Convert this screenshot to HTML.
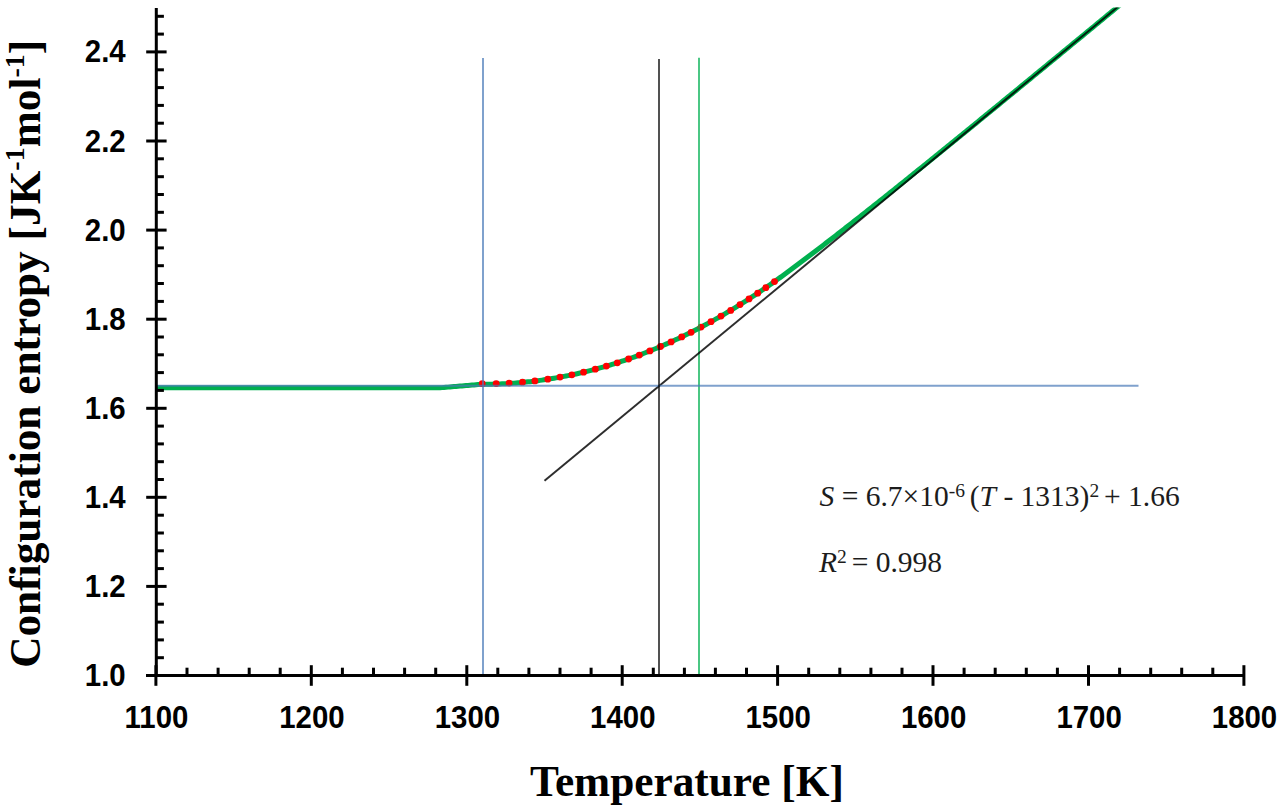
<!DOCTYPE html>
<html><head><meta charset="utf-8"><style>
html,body{margin:0;padding:0;background:#fff;}
body{width:1284px;height:811px;overflow:hidden;}
svg{display:block;}
.tk{font-family:"Liberation Sans",sans-serif;font-weight:bold;font-size:29.4px;fill:#000;letter-spacing:0px;}
.ttl{font-family:"Liberation Serif",serif;font-weight:bold;font-size:43.3px;fill:#000;}
.eq{font-family:"Liberation Serif",serif;font-size:29.5px;fill:#1c1c1c;}
.sup{font-size:19.5px;}
</style></head><body>
<svg width="1284" height="811" viewBox="0 0 1284 811">
<rect width="1284" height="811" fill="#fff"/>
<defs><clipPath id="pa"><rect x="150" y="7.5" width="1100" height="670"/></clipPath></defs>
<g clip-path="url(#pa)">
<path d="M156.0,387.80 L158.0,387.80 L160.0,387.80 L162.0,387.80 L164.0,387.80 L166.0,387.80 L168.0,387.80 L170.0,387.80 L172.0,387.80 L174.0,387.80 L176.0,387.80 L178.0,387.80 L180.0,387.80 L182.0,387.80 L184.0,387.80 L186.0,387.80 L188.0,387.80 L190.0,387.80 L192.0,387.80 L194.0,387.80 L196.0,387.80 L198.0,387.80 L200.0,387.80 L202.0,387.80 L204.0,387.80 L206.0,387.80 L208.0,387.80 L210.0,387.80 L212.0,387.80 L214.0,387.80 L216.0,387.80 L218.0,387.80 L220.0,387.80 L222.0,387.80 L224.0,387.80 L226.0,387.80 L228.0,387.80 L230.0,387.80 L232.0,387.80 L234.0,387.80 L236.0,387.80 L238.0,387.80 L240.0,387.80 L242.0,387.80 L244.0,387.80 L246.0,387.80 L248.0,387.80 L250.0,387.80 L252.0,387.80 L254.0,387.80 L256.0,387.80 L258.0,387.80 L260.0,387.80 L262.0,387.80 L264.0,387.80 L266.0,387.80 L268.0,387.80 L270.0,387.80 L272.0,387.80 L274.0,387.80 L276.0,387.80 L278.0,387.80 L280.0,387.80 L282.0,387.80 L284.0,387.80 L286.0,387.80 L288.0,387.80 L290.0,387.80 L292.0,387.80 L294.0,387.80 L296.0,387.80 L298.0,387.80 L300.0,387.80 L302.0,387.80 L304.0,387.80 L306.0,387.80 L308.0,387.80 L310.0,387.80 L312.0,387.80 L314.0,387.80 L316.0,387.80 L318.0,387.80 L320.0,387.80 L322.0,387.80 L324.0,387.80 L326.0,387.80 L328.0,387.80 L330.0,387.80 L332.0,387.80 L334.0,387.80 L336.0,387.80 L338.0,387.80 L340.0,387.80 L342.0,387.80 L344.0,387.80 L346.0,387.80 L348.0,387.80 L350.0,387.80 L352.0,387.80 L354.0,387.80 L356.0,387.80 L358.0,387.80 L360.0,387.80 L362.0,387.80 L364.0,387.80 L366.0,387.80 L368.0,387.80 L370.0,387.80 L372.0,387.80 L374.0,387.80 L376.0,387.80 L378.0,387.80 L380.0,387.80 L382.0,387.80 L384.0,387.80 L386.0,387.80 L388.0,387.80 L390.0,387.80 L392.0,387.80 L394.0,387.80 L396.0,387.80 L398.0,387.80 L400.0,387.80 L402.0,387.80 L404.0,387.80 L406.0,387.80 L408.0,387.80 L410.0,387.80 L412.0,387.80 L414.0,387.80 L416.0,387.80 L418.0,387.80 L420.0,387.80 L422.0,387.80 L424.0,387.80 L426.0,387.80 L428.0,387.80 L430.0,387.80 L432.0,387.80 L434.0,387.80 L436.0,387.80 L438.0,387.80 L440.0,387.80 L442.0,387.63 L444.0,387.46 L446.0,387.29 L448.0,387.12 L450.0,386.94 L452.0,386.77 L454.0,386.60 L456.0,386.43 L458.0,386.26 L460.0,386.09 L462.0,385.92 L464.0,385.75 L466.0,385.57 L468.0,385.40 L470.0,385.23 L472.0,385.06 L474.0,384.89 L476.0,384.72 L478.0,384.55 L480.0,384.38 L482.0,384.21 L484.0,384.21 L486.0,384.21 L488.0,384.20 L490.0,384.17 L492.0,384.14 L494.0,384.10 L496.0,384.05 L498.0,383.98 L500.0,383.91 L502.0,383.83 L504.0,383.74 L506.0,383.63 L508.0,383.52 L510.0,383.40 L512.0,383.27 L514.0,383.13 L516.0,382.98 L518.0,382.82 L520.0,382.64 L522.0,382.46 L524.0,382.27 L526.0,382.07 L528.0,381.86 L530.0,381.64 L532.0,381.41 L534.0,381.17 L536.0,380.92 L538.0,380.66 L540.0,380.39 L542.0,380.11 L544.0,379.82 L546.0,379.52 L548.0,379.21 L550.0,378.89 L552.0,378.56 L554.0,378.22 L556.0,377.87 L558.0,377.52 L560.0,377.15 L562.0,376.78 L564.0,376.41 L566.0,376.02 L568.0,375.62 L570.0,375.22 L572.0,374.80 L574.0,374.38 L576.0,373.94 L578.0,373.50 L580.0,373.04 L582.0,372.58 L584.0,372.11 L586.0,371.62 L588.0,371.13 L590.0,370.62 L592.0,370.11 L594.0,369.58 L596.0,369.05 L598.0,368.51 L600.0,367.95 L602.0,367.39 L604.0,366.82 L606.0,366.23 L608.0,365.64 L610.0,365.04 L612.0,364.42 L614.0,363.80 L616.0,363.17 L618.0,362.53 L620.0,361.87 L622.0,361.21 L624.0,360.54 L626.0,359.86 L628.0,359.17 L630.0,358.46 L632.0,357.75 L634.0,357.03 L636.0,356.30 L638.0,355.56 L640.0,354.81 L642.0,354.05 L644.0,353.28 L646.0,352.49 L648.0,351.70 L650.0,350.90 L652.0,350.09 L654.0,349.27 L656.0,348.44 L658.0,347.60 L660.0,346.75 L662.0,345.89 L664.0,345.02 L666.0,344.14 L668.0,343.25 L670.0,342.35 L672.0,341.44 L674.0,340.52 L676.0,339.60 L678.0,338.66 L680.0,337.71 L682.0,336.75 L684.0,335.78 L686.0,334.80 L688.0,333.81 L690.0,332.82 L692.0,331.81 L694.0,330.79 L696.0,329.76 L698.0,328.72 L700.0,327.68 L702.0,326.62 L704.0,325.55 L706.0,324.47 L708.0,323.39 L710.0,322.29 L712.0,321.18 L714.0,320.07 L716.0,318.94 L718.0,317.80 L720.0,316.66 L722.0,315.50 L724.0,314.33 L726.0,313.16 L728.0,311.97 L730.0,310.78 L732.0,309.57 L734.0,308.35 L736.0,307.13 L738.0,305.89 L740.0,304.65 L742.0,303.39 L744.0,302.13 L746.0,300.85 L748.0,299.57 L750.0,298.27 L752.0,296.97 L754.0,295.65 L756.0,294.33 L758.0,293.00 L760.0,291.65 L762.0,290.30 L764.0,288.93 L766.0,287.56 L768.0,286.18 L770.0,284.78 L772.0,283.38 L774.0,281.97 L776.0,280.52 L778.0,279.07 L780.0,277.62 L782.0,276.16 L784.0,274.69 L786.0,273.23 L788.0,271.75 L790.0,270.28 L792.0,268.80 L794.0,267.31 L796.0,265.83 L798.0,264.33 L800.0,262.84 L802.0,261.34 L804.0,259.84 L806.0,258.33 L808.0,256.82 L810.0,255.31 L812.0,253.79 L814.0,252.27 L816.0,250.75 L818.0,249.22 L820.0,247.70 L822.0,246.17 L824.0,244.63 L826.0,243.09 L828.0,241.56 L830.0,240.01 L832.0,238.47 L834.0,236.92 L836.0,235.37 L838.0,233.82 L840.0,232.27 L842.0,230.71 L844.0,229.15 L846.0,227.59 L848.0,226.03 L850.0,224.46 L852.0,222.90 L854.0,221.33 L856.0,219.76 L858.0,218.18 L860.0,216.61 L862.0,215.03 L864.0,213.45 L866.0,211.87 L868.0,210.29 L870.0,208.71 L872.0,207.12 L874.0,205.54 L876.0,203.95 L878.0,202.36 L880.0,200.77 L882.0,199.18 L884.0,197.58 L886.0,195.99 L888.0,194.39 L890.0,192.79 L892.0,191.20 L894.0,189.60 L896.0,187.99 L898.0,186.39 L900.0,184.79 L902.0,183.18 L904.0,181.58 L906.0,179.97 L908.0,178.36 L910.0,176.75 L912.0,175.14 L914.0,173.53 L916.0,171.92 L918.0,170.31 L920.0,168.69 L922.0,167.08 L924.0,165.46 L926.0,163.84 L928.0,162.23 L930.0,160.61 L932.0,158.99 L934.0,157.37 L936.0,155.75 L938.0,154.13 L940.0,152.51 L942.0,150.88 L944.0,149.26 L946.0,147.64 L948.0,146.01 L950.0,144.38 L952.0,142.76 L954.0,141.13 L956.0,139.50 L958.0,137.88 L960.0,136.25 L962.0,134.62 L964.0,132.99 L966.0,131.36 L968.0,129.73 L970.0,128.10 L972.0,126.47 L974.0,124.83 L976.0,123.20 L978.0,121.57 L980.0,119.93 L982.0,118.30 L984.0,116.67 L986.0,115.03 L988.0,113.40 L990.0,111.76 L992.0,110.12 L994.0,108.49 L996.0,106.85 L998.0,105.21 L1000.0,103.58 L1002.0,101.94 L1004.0,100.30 L1006.0,98.66 L1008.0,97.02 L1010.0,95.38 L1012.0,93.74 L1014.0,92.10 L1016.0,90.46 L1018.0,88.82 L1020.0,87.18 L1022.0,85.54 L1024.0,83.90 L1026.0,82.26 L1028.0,80.62 L1030.0,78.97 L1032.0,77.33 L1034.0,75.69 L1036.0,74.05 L1038.0,72.40 L1040.0,70.76 L1042.0,69.12 L1044.0,67.47 L1046.0,65.83 L1048.0,64.18 L1050.0,62.54 L1052.0,60.89 L1054.0,59.25 L1056.0,57.60 L1058.0,55.96 L1060.0,54.31 L1062.0,52.67 L1064.0,51.02 L1066.0,49.38 L1068.0,47.73 L1070.0,46.08 L1072.0,44.44 L1074.0,42.79 L1076.0,41.15 L1078.0,39.50 L1080.0,37.85 L1082.0,36.20 L1084.0,34.56 L1086.0,32.91 L1088.0,31.26 L1090.0,29.61 L1092.0,27.97 L1094.0,26.32 L1096.0,24.67 L1098.0,23.02 L1100.0,21.37 L1102.0,19.73 L1104.0,18.08 L1106.0,16.43 L1108.0,14.78 L1110.0,13.13 L1112.0,11.48 L1114.0,9.83 L1116.0,8.19 L1118.0,6.54 L1120.0,4.89 L1122.0,3.24" fill="none" stroke="#00b04f" stroke-width="5" stroke-linejoin="round"/>
<g fill="#ff0000"><circle cx="482.2" cy="383.7" r="3.4"/><circle cx="496.2" cy="383.6" r="3.4"/><circle cx="509.1" cy="383.1" r="3.4"/><circle cx="522.5" cy="382.2" r="3.4"/><circle cx="534.9" cy="380.9" r="3.4"/><circle cx="547.8" cy="379.2" r="3.4"/><circle cx="560.0" cy="377.1" r="3.4"/><circle cx="571.9" cy="374.8" r="3.4"/><circle cx="583.6" cy="372.2" r="3.4"/><circle cx="595.3" cy="369.2" r="3.4"/><circle cx="606.4" cy="366.1" r="3.4"/><circle cx="617.3" cy="362.8" r="3.4"/><circle cx="628.6" cy="359.0" r="3.4"/><circle cx="639.3" cy="355.1" r="3.4"/><circle cx="649.9" cy="350.9" r="3.4"/><circle cx="660.5" cy="346.5" r="3.4"/><circle cx="671.1" cy="341.9" r="3.4"/><circle cx="681.7" cy="336.9" r="3.4"/><circle cx="691.1" cy="332.3" r="3.4"/><circle cx="701.0" cy="327.1" r="3.4"/><circle cx="711.0" cy="321.7" r="3.4"/><circle cx="721.0" cy="316.1" r="3.4"/><circle cx="730.7" cy="310.4" r="3.4"/><circle cx="740.0" cy="304.6" r="3.4"/><circle cx="749.0" cy="298.9" r="3.4"/><circle cx="757.7" cy="293.2" r="3.4"/><circle cx="765.8" cy="287.7" r="3.4"/><circle cx="774.5" cy="281.6" r="3.4"/></g>
<line x1="699" y1="57.8" x2="699" y2="675" stroke="#00b050" stroke-width="2" opacity="0.7"/>
<line x1="544.5" y1="480.7" x2="1123.7" y2="2.0" stroke="#000" stroke-width="2" opacity="0.82"/>
</g>
<line x1="155" y1="385.7" x2="1138.5" y2="385.7" stroke="#4a7ab8" stroke-width="2.1" opacity="0.7"/>
<line x1="483" y1="57.9" x2="483" y2="675" stroke="#4a7ab8" stroke-width="2" opacity="0.7"/>
<line x1="659" y1="59.1" x2="659" y2="675" stroke="#000" stroke-width="2" opacity="0.68"/>
<g stroke="#000" stroke-width="3" fill="none">
<line x1="156.3" y1="8" x2="156.3" y2="677"/>
<line x1="146" y1="675.5" x2="1245" y2="675.5"/>
<line x1="146.2" y1="675.5" x2="166.6" y2="675.5"/>
<line x1="146.2" y1="586.4" x2="166.6" y2="586.4"/>
<line x1="146.2" y1="497.3" x2="166.6" y2="497.3"/>
<line x1="146.2" y1="408.3" x2="166.6" y2="408.3"/>
<line x1="146.2" y1="319.2" x2="166.6" y2="319.2"/>
<line x1="146.2" y1="230.1" x2="166.6" y2="230.1"/>
<line x1="146.2" y1="141.0" x2="166.6" y2="141.0"/>
<line x1="146.2" y1="51.9" x2="166.6" y2="51.9"/>
<line x1="156" y1="657.7" x2="163.9" y2="657.7"/>
<line x1="156" y1="639.9" x2="163.9" y2="639.9"/>
<line x1="156" y1="622.1" x2="163.9" y2="622.1"/>
<line x1="156" y1="604.2" x2="163.9" y2="604.2"/>
<line x1="156" y1="568.6" x2="163.9" y2="568.6"/>
<line x1="156" y1="550.8" x2="163.9" y2="550.8"/>
<line x1="156" y1="533.0" x2="163.9" y2="533.0"/>
<line x1="156" y1="515.2" x2="163.9" y2="515.2"/>
<line x1="156" y1="479.5" x2="163.9" y2="479.5"/>
<line x1="156" y1="461.7" x2="163.9" y2="461.7"/>
<line x1="156" y1="443.9" x2="163.9" y2="443.9"/>
<line x1="156" y1="426.1" x2="163.9" y2="426.1"/>
<line x1="156" y1="390.4" x2="163.9" y2="390.4"/>
<line x1="156" y1="372.6" x2="163.9" y2="372.6"/>
<line x1="156" y1="354.8" x2="163.9" y2="354.8"/>
<line x1="156" y1="337.0" x2="163.9" y2="337.0"/>
<line x1="156" y1="301.4" x2="163.9" y2="301.4"/>
<line x1="156" y1="283.5" x2="163.9" y2="283.5"/>
<line x1="156" y1="265.7" x2="163.9" y2="265.7"/>
<line x1="156" y1="247.9" x2="163.9" y2="247.9"/>
<line x1="156" y1="212.3" x2="163.9" y2="212.3"/>
<line x1="156" y1="194.5" x2="163.9" y2="194.5"/>
<line x1="156" y1="176.7" x2="163.9" y2="176.7"/>
<line x1="156" y1="158.8" x2="163.9" y2="158.8"/>
<line x1="156" y1="123.2" x2="163.9" y2="123.2"/>
<line x1="156" y1="105.4" x2="163.9" y2="105.4"/>
<line x1="156" y1="87.6" x2="163.9" y2="87.6"/>
<line x1="156" y1="69.8" x2="163.9" y2="69.8"/>
<line x1="156" y1="34.1" x2="163.9" y2="34.1"/>
<line x1="156" y1="16.3" x2="163.9" y2="16.3"/>
<line x1="155.9" y1="665.2" x2="155.9" y2="685.8"/>
<line x1="311.3" y1="665.2" x2="311.3" y2="685.8"/>
<line x1="466.8" y1="665.2" x2="466.8" y2="685.8"/>
<line x1="622.2" y1="665.2" x2="622.2" y2="685.8"/>
<line x1="777.6" y1="665.2" x2="777.6" y2="685.8"/>
<line x1="933.0" y1="665.2" x2="933.0" y2="685.8"/>
<line x1="1088.5" y1="665.2" x2="1088.5" y2="685.8"/>
<line x1="1243.9" y1="665.2" x2="1243.9" y2="685.8"/>
<line x1="187.0" y1="667.7" x2="187.0" y2="675"/>
<line x1="218.1" y1="667.7" x2="218.1" y2="675"/>
<line x1="249.2" y1="667.7" x2="249.2" y2="675"/>
<line x1="280.2" y1="667.7" x2="280.2" y2="675"/>
<line x1="342.4" y1="667.7" x2="342.4" y2="675"/>
<line x1="373.5" y1="667.7" x2="373.5" y2="675"/>
<line x1="404.6" y1="667.7" x2="404.6" y2="675"/>
<line x1="435.7" y1="667.7" x2="435.7" y2="675"/>
<line x1="497.8" y1="667.7" x2="497.8" y2="675"/>
<line x1="528.9" y1="667.7" x2="528.9" y2="675"/>
<line x1="560.0" y1="667.7" x2="560.0" y2="675"/>
<line x1="591.1" y1="667.7" x2="591.1" y2="675"/>
<line x1="653.3" y1="667.7" x2="653.3" y2="675"/>
<line x1="684.4" y1="667.7" x2="684.4" y2="675"/>
<line x1="715.4" y1="667.7" x2="715.4" y2="675"/>
<line x1="746.5" y1="667.7" x2="746.5" y2="675"/>
<line x1="808.7" y1="667.7" x2="808.7" y2="675"/>
<line x1="839.8" y1="667.7" x2="839.8" y2="675"/>
<line x1="870.9" y1="667.7" x2="870.9" y2="675"/>
<line x1="902.0" y1="667.7" x2="902.0" y2="675"/>
<line x1="964.1" y1="667.7" x2="964.1" y2="675"/>
<line x1="995.2" y1="667.7" x2="995.2" y2="675"/>
<line x1="1026.3" y1="667.7" x2="1026.3" y2="675"/>
<line x1="1057.4" y1="667.7" x2="1057.4" y2="675"/>
<line x1="1119.6" y1="667.7" x2="1119.6" y2="675"/>
<line x1="1150.7" y1="667.7" x2="1150.7" y2="675"/>
<line x1="1181.7" y1="667.7" x2="1181.7" y2="675"/>
<line x1="1212.8" y1="667.7" x2="1212.8" y2="675"/>
</g>
<g class="tk">
<text transform="translate(125.7,686.0) scale(1,1.04)" text-anchor="end">1.0</text>
<text transform="translate(125.7,596.9) scale(1,1.04)" text-anchor="end">1.2</text>
<text transform="translate(125.7,507.8) scale(1,1.04)" text-anchor="end">1.4</text>
<text transform="translate(125.7,418.8) scale(1,1.04)" text-anchor="end">1.6</text>
<text transform="translate(125.7,329.7) scale(1,1.04)" text-anchor="end">1.8</text>
<text transform="translate(125.7,240.6) scale(1,1.04)" text-anchor="end">2.0</text>
<text transform="translate(125.7,151.5) scale(1,1.04)" text-anchor="end">2.2</text>
<text transform="translate(125.7,62.4) scale(1,1.04)" text-anchor="end">2.4</text>
<text transform="translate(156.5,727.8) scale(1,1.04)" text-anchor="middle">1100</text>
<text transform="translate(311.9,727.8) scale(1,1.04)" text-anchor="middle">1200</text>
<text transform="translate(467.4,727.8) scale(1,1.04)" text-anchor="middle">1300</text>
<text transform="translate(622.8,727.8) scale(1,1.04)" text-anchor="middle">1400</text>
<text transform="translate(778.2,727.8) scale(1,1.04)" text-anchor="middle">1500</text>
<text transform="translate(933.6,727.8) scale(1,1.04)" text-anchor="middle">1600</text>
<text transform="translate(1089.1,727.8) scale(1,1.04)" text-anchor="middle">1700</text>
<text transform="translate(1244.5,727.8) scale(1,1.04)" text-anchor="middle">1800</text>
</g>
<text class="ttl" x="530" y="796.4">Temperature [K]</text>
<text class="ttl" transform="translate(39.8,667.8) rotate(-90)" x="0" y="0">Configuration entropy [JK<tspan font-size="28" dy="-16">-1</tspan><tspan dy="16">mol</tspan><tspan font-size="28" dy="-16">-1</tspan><tspan dy="16">]</tspan></text>
<text class="eq" x="819.5" y="505.5"><tspan font-style="italic">S</tspan> = 6.7×10<tspan class="sup" dy="-9">-6 </tspan><tspan dy="9">(</tspan><tspan font-style="italic">T</tspan> - 1313)<tspan class="sup" dy="-9">2 </tspan><tspan dy="9">+ 1.66</tspan></text>
<text class="eq" x="819" y="571.6"><tspan font-style="italic">R</tspan><tspan class="sup" dy="-8.6">2 </tspan><tspan dy="8.6">= 0.998</tspan></text>
</svg>
</body></html>
